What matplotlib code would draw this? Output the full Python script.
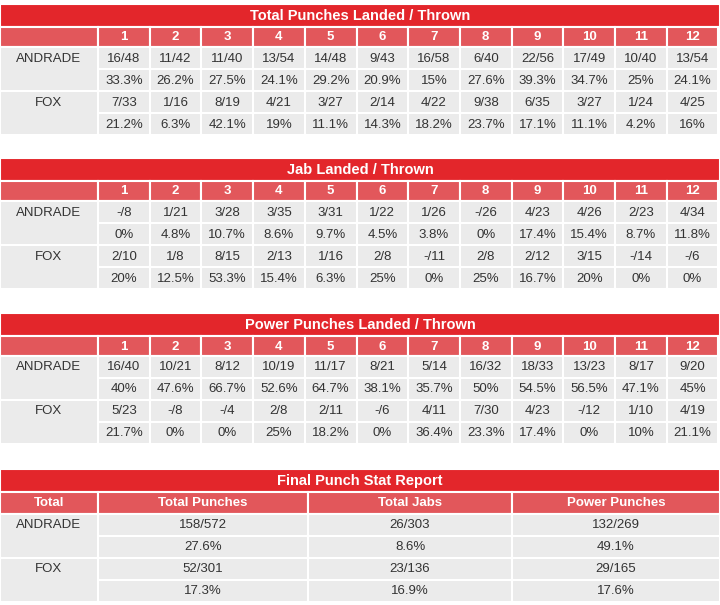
import matplotlib.pyplot as plt
from matplotlib.patches import Rectangle

rounds = [str(i) for i in range(1, 13)]
fighters = ["ANDRADE", "FOX"]

total_andrade = ["16/48", "11/42", "11/40", "13/54", "14/48", "9/43", "16/58", "6/40", "22/56", "17/49", "10/40", "13/54"]
total_andrade_pct = ["33.3%", "26.2%", "27.5%", "24.1%", "29.2%", "20.9%", "15%", "27.6%", "39.3%", "34.7%", "25%", "24.1%"]
total_fox = ["7/33", "1/16", "8/19", "4/21", "3/27", "2/14", "4/22", "9/38", "6/35", "3/27", "1/24", "4/25"]
total_fox_pct = ["21.2%", "6.3%", "42.1%", "19%", "11.1%", "14.3%", "18.2%", "23.7%", "17.1%", "11.1%", "4.2%", "16%"]

jab_andrade = ["-/8", "1/21", "3/28", "3/35", "3/31", "1/22", "1/26", "-/26", "4/23", "4/26", "2/23", "4/34"]
jab_andrade_pct = ["0%", "4.8%", "10.7%", "8.6%", "9.7%", "4.5%", "3.8%", "0%", "17.4%", "15.4%", "8.7%", "11.8%"]
jab_fox = ["2/10", "1/8", "8/15", "2/13", "1/16", "2/8", "-/11", "2/8", "2/12", "3/15", "-/14", "-/6"]
jab_fox_pct = ["20%", "12.5%", "53.3%", "15.4%", "6.3%", "25%", "0%", "25%", "16.7%", "20%", "0%", "0%"]

power_andrade = ["16/40", "10/21", "8/12", "10/19", "11/17", "8/21", "5/14", "16/32", "18/33", "13/23", "8/17", "9/20"]
power_andrade_pct = ["40%", "47.6%", "66.7%", "52.6%", "64.7%", "38.1%", "35.7%", "50%", "54.5%", "56.5%", "47.1%", "45%"]
power_fox = ["5/23", "-/8", "-/4", "2/8", "2/11", "-/6", "4/11", "7/30", "4/23", "-/12", "1/10", "4/19"]
power_fox_pct = ["21.7%", "0%", "0%", "25%", "18.2%", "0%", "36.4%", "23.3%", "17.4%", "0%", "10%", "21.1%"]

final_headers = ["Total", "Total Punches", "Total Jabs", "Power Punches"]
final_andrade = ["158/572", "26/303", "132/269"]
final_andrade_pct = ["27.6%", "8.6%", "49.1%"]
final_fox = ["52/301", "23/136", "29/165"]
final_fox_pct = ["17.3%", "16.9%", "17.6%"]

RED = "#e3262b"
HDR = "#e2575b"
ROW = "#ebebeb"
TXT = "#333333"

fig = plt.figure(figsize=(7.2, 6.05), dpi=100)
ax = fig.add_axes([0, 0, 1, 1])
ax.set_xlim(0, 720)
ax.set_ylim(605, 0)
ax.axis("off")


def cell(x0, x1, y0, y1, color, text="", tcolor=TXT, bold=False, size=9.5, ty=None):
    ax.add_patch(Rectangle((x0, y0), x1 - x0, y1 - y0, facecolor=color,
                           edgecolor="white", linewidth=1.5))
    if text:
        yc = (y0 + y1) / 2 if ty is None else ty
        ax.text((x0 + x1) / 2, yc + 0.5, text, ha="center", va="center",
                color=tcolor, fontsize=size, fontweight="bold" if bold else "normal",
                family="Liberation Sans")


def body(y, edges, a, ap, f, fp):
    for name, top, bot in [(fighters[0], a, ap), (fighters[1], f, fp)]:
        cell(edges[0], edges[1], y, y + 44, ROW, name, ty=y + 11)
        for vals, yy in [(top, y), (bot, y + 22)]:
            for i, v in enumerate(vals):
                cell(edges[i + 1], edges[i + 2], yy, yy + 22, ROW, v)
        y += 44


def round_table(y, title, a, ap, f, fp):
    cell(0, 720, y, y + 23, RED, title, "white", True, 10.5)
    edges = [0, 98] + [98 + 51.7 * (i + 1) for i in range(12)]
    y += 23
    cell(0, edges[1], y, y + 20, HDR)
    for i, r in enumerate(rounds):
        cell(edges[i + 1], edges[i + 2], y, y + 20, HDR, r, "white", True)
    body(y + 20, edges, a, ap, f, fp)


round_table(4, "Total Punches Landed / Thrown", total_andrade, total_andrade_pct, total_fox, total_fox_pct)
round_table(158, "Jab Landed / Thrown", jab_andrade, jab_andrade_pct, jab_fox, jab_fox_pct)
round_table(313, "Power Punches Landed / Thrown", power_andrade, power_andrade_pct, power_fox, power_fox_pct)

# final report
y = 469
cell(0, 720, y, y + 23, RED, "Final Punch Stat Report", "white", True, 10.5)
y += 23
fe = [0, 98, 308, 512, 720]
for i, h in enumerate(final_headers):
    cell(fe[i], fe[i + 1], y, y + 22, HDR, h, "white", True)
body(y + 22, fe, final_andrade, final_andrade_pct, final_fox, final_fox_pct)

fig.savefig("out.png", dpi=100)
